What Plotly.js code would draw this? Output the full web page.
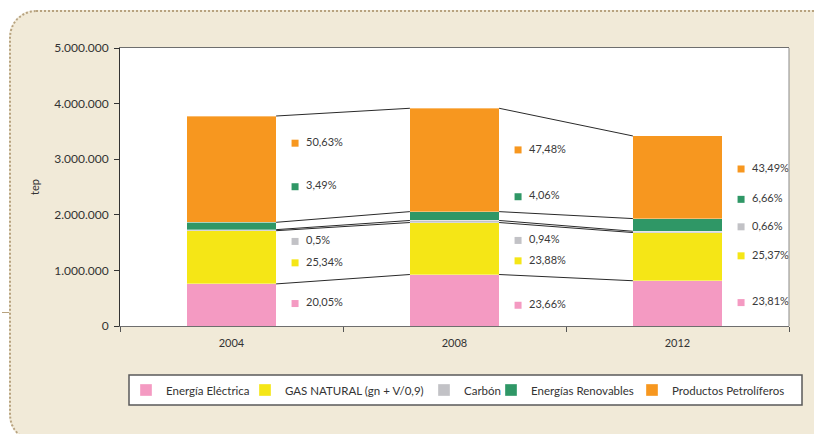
<!DOCTYPE html>
<html>
<head>
<meta charset="utf-8">
<script src="https://cdn.plot.ly/plotly-3.0.1.min.js"></script>
<style>
  html, body { margin:0; padding:0; width:814px; height:434px; overflow:hidden; background:#ffffff; }
  #frame { position:absolute; left:9px; top:10px; width:900px; height:432px;
           border:2px dotted #b7a27f; border-radius:27px; background:#f1ead8; box-sizing:border-box; }
  #stray { position:absolute; left:2px; top:312px; width:7px; height:1px; background:#b7a27f; }
  #chart { position:absolute; left:0; top:0; width:814px; height:434px; }
</style>
</head>
<body>
<div id="frame"></div>
<div id="stray"></div>
<div id="chart"></div>
<script>
// ---- data ----
const years = ['2004', '2008', '2012'];
const seriesNames = ['Energía Eléctrica', 'GAS NATURAL (gn + V/0,9)', 'Carbón', 'Energías Renovables', 'Productos Petrolíferos'];
const electrica   = [757000, 926000, 814000];
const gasNatural  = [957000, 935000, 867000];
const carbon      = [19000, 37000, 23000];
const renovables  = [132000, 159000, 228000];
const petroliferos = [1912000, 1859000, 1486000];
const pctElectrica   = [20.05, 23.66, 23.81];
const pctGas         = [25.34, 23.88, 25.37];
const pctCarbon      = [0.5, 0.94, 0.66];
const pctRenovables  = [3.49, 4.06, 6.66];
const pctPetroliferos = [50.63, 47.48, 43.49];

// ---- label placement (layout, in tep on the y axis) ----
const labelYElectrica   = [404000, 373000, 421000];
const labelYGas         = [1136000, 1172000, 1262000];
const labelYCarbon      = [1521000, 1539000, 1784000];
const labelYRenovables  = [2505000, 2325000, 2278000];
const labelYPetroliferos = [3288000, 3167000, 2824000];

// ---- styles ----
const colors = ['#f49ac2', '#f5e616', '#c2c2c6', '#2f9766', '#f7971f'];
const barWidth = 0.4;
const labelOffset = 0.285;
const legendLeftPx = [126, 245, 424, 491, 632];

const values = [electrica, gasNatural, carbon, renovables, petroliferos];
const pcts = [pctElectrica, pctGas, pctCarbon, pctRenovables, pctPetroliferos];
const labelYs = [labelYElectrica, labelYGas, labelYCarbon, labelYRenovables, labelYPetroliferos];
const legendIds = ['legend', 'legend2', 'legend3', 'legend4', 'legend5'];

const font = 'Lato, "Open Sans", sans-serif';
const traces = [];

// stacked bars
values.forEach((v, k) => {
  traces.push({
    type: 'bar', x: years, y: v, name: seriesNames[k], width: barWidth,
    marker: { color: colors[k], line: { color: 'rgba(255,255,255,0.35)', width: 1 } },
    legend: legendIds[k], hoverinfo: 'x+y+name'
  });
});

// connector lines between bar segment tops
const idx = years.map((_, i) => i);
let cum = years.map(() => 0);
values.forEach((v) => {
  cum = cum.map((c, i) => c + v[i]);
  const xs = [], ys = [];
  for (let i = 0; i < years.length - 1; i++) {
    xs.push(i + barWidth / 2, i + 1 - barWidth / 2, null);
    ys.push(cum[i], cum[i + 1], null);
  }
  traces.push({
    type: 'scatter', mode: 'lines', x: xs, y: ys, xaxis: 'x2', yaxis: 'y',
    line: { color: '#2a2a2a', width: 1 }, showlegend: false, hoverinfo: 'skip'
  });
});

// percentage labels with colored squares
pcts.forEach((p, k) => {
  traces.push({
    type: 'scatter', mode: 'markers+text', xaxis: 'x2', yaxis: 'y',
    x: idx.map(i => i + labelOffset), y: labelYs[k],
    text: p.map(n => '\u00a0\u00a0' + String(n).replace('.', ',') + '%'),
    textposition: 'middle right',
    textfont: { family: font, size: 11, color: '#3a3a3a' },
    marker: { symbol: 'square', size: 7, color: colors[k] },
    showlegend: false, hoverinfo: 'skip', cliponaxis: false
  });
});

const layout = {
  width: 814, height: 434,
  margin: { l: 120, r: 25, t: 48, b: 108 },
  paper_bgcolor: 'rgba(0,0,0,0)',
  plot_bgcolor: '#ffffff',
  separators: ',.',
  font: { family: font, size: 11, color: '#333333' },
  barmode: 'stack',
  showlegend: true,
  xaxis: {
    type: 'category', range: [-0.5, 2.5], tickson: 'boundaries',
    ticks: 'outside', ticklen: 5, tickcolor: '#555', showline: true, linecolor: '#6e6e6e',
    linewidth: 1, mirror: true, showgrid: false, zeroline: false, ticklabelstandoff: 7,
    tickfont: { family: font, size: 11, color: '#333' }
  },
  xaxis2: { overlaying: 'x', range: [-0.5, 2.5], visible: false, fixedrange: true },
  yaxis: {
    range: [0, 5000000], dtick: 1000000, tickformat: ',d',
    ticks: 'outside', ticklen: 5, tickcolor: '#333', showline: true, linecolor: '#333',
    linewidth: 1, showgrid: false, zeroline: false, ticklabelstandoff: 3,
    tickfont: { family: font, size: 12, color: '#333' },
    title: { text: 'tep', font: { family: font, size: 11, color: '#333' }, standoff: 12 }
  },
  shapes: [
    { type: 'line', xref: 'paper', yref: 'paper', x0: 1, x1: 1, y0: 0, y1: 1,
      line: { color: '#8a8a8a', width: 1 } },
    { type: 'rect', xref: 'paper', yref: 'paper',
      x0: (129 - 120) / 669, x1: (802 - 120) / 669, y0: -(375 - 326) / 278, y1: -(405 - 326) / 278,
      line: { color: '#5a5a5a', width: 1.5 }, fillcolor: '#ffffff' }
  ]
};

legendIds.forEach((id, k) => {
  layout[id] = {
    orientation: 'h', x: (legendLeftPx[k] - 120) / 669, xanchor: 'left',
    y: -(390 - 326) / 278, yanchor: 'middle',
    bgcolor: 'rgba(0,0,0,0)', borderwidth: 0,
    font: { family: font, size: 11.5, color: '#333' }
  };
});

Plotly.newPlot('chart', traces, layout, { displayModeBar: false, staticPlot: true });
</script>
</body>
</html>
